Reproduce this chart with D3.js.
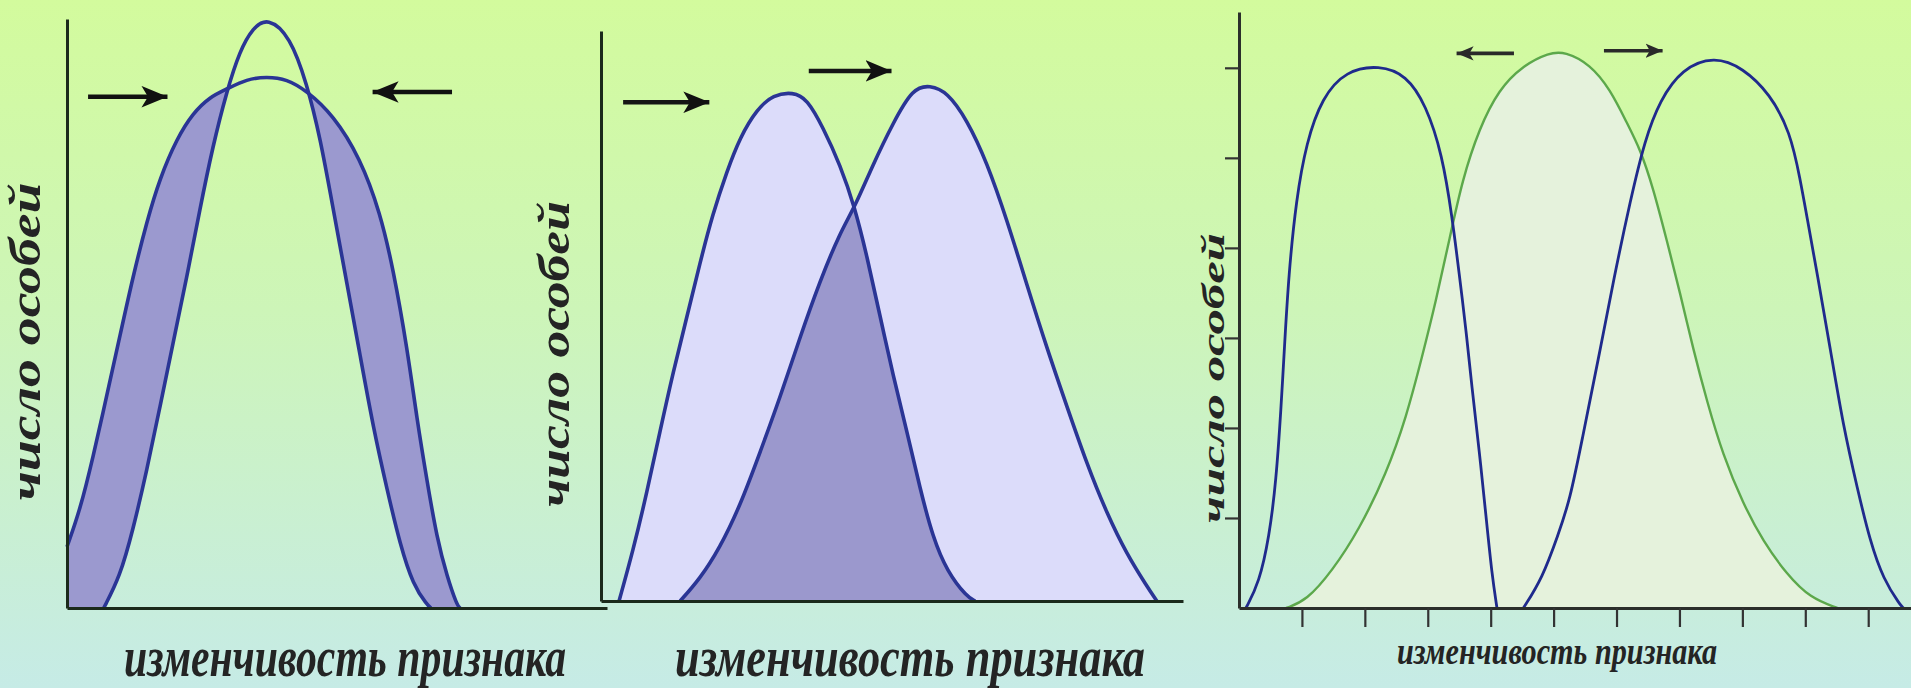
<!DOCTYPE html>
<html><head><meta charset="utf-8">
<script src="https://cdn.jsdelivr.net/npm/d3@7"></script>
<style>html,body{margin:0;padding:0;overflow:hidden;background:#cdf3c0}</style>
</head><body><svg id="c" width="1911" height="688"></svg>
<script>
// ---------- data ----------
const xLabel = "изменчивость признака";
const yLabel = "число особей";

// Panel 1: stabilising selection (x: 0-100, y: 0-100)
const p1Wide = [[0,10.4],[2.4,16.6],[4.8,25.5],[7.4,36.2],[9.8,46.2],[12.2,56.2],[14.8,65.7],[17.2,73.0],[20.4,79.8],[23.3,84.0],[26.5,86.8],[29.6,88.1],[33.3,89.8],[37.0,90.2],[40.7,89.8],[44.4,87.8],[49.3,83.7],[54.3,76.4],[58.0,67.1],[60.4,57.6],[63.0,44.1],[64.8,32.1],[66.7,21.4],[68.5,11.9],[70.4,5.3],[72.2,0.5],[72.8,0]];
const p1Narrow = [[6.8,0],[9.8,5.3],[12.2,13.2],[14.8,23.4],[17.2,34.1],[19.6,44.8],[22.2,56.2],[24.6,67.7],[27.0,78.4],[29.6,87.8],[32.0,94.6],[34.4,98.5],[37.2,100.3],[41.3,97.1],[44.4,89.1],[46.9,79.8],[49.3,67.7],[51.9,54.8],[54.3,42.8],[56.7,30.7],[59.3,20.0],[61.7,10.7],[64.1,3.9],[66.7,0.5],[67.4,0]];
const p1Arrows = [[3.9,18.7,86.8],[71.3,56.5,87.6]];   // [from x, to x, y]

// Panel 2: directional selection (x: 0-100, y: 0-100)
const p2Before = [[3.1,0],[5.5,8.8],[7.9,19.1],[10.1,29.6],[12.4,40.2],[14.8,50.0],[17.0,59.3],[19.2,67.9],[21.6,75.3],[23.9,81.4],[26.8,86.3],[29.6,88.8],[33.0,89.3],[35.4,88.1],[38.1,83.2],[41.1,76.5],[43.6,69.1],[45.7,60.5],[47.9,50.2],[50.2,39.5],[52.6,29.6],[54.8,19.8],[57.0,11.2],[59.5,5.1],[62.9,0.7],[64.3,0]];
const p2After = [[13.6,0],[17.0,3.9],[20.4,9.3],[23.9,16.7],[27.3,26.0],[30.8,35.8],[34.2,46.3],[37.6,56.1],[41.1,64.7],[43.6,69.1],[46.7,76.5],[50.2,83.9],[53.6,90.0],[56.5,90.5],[59.5,89.3],[62.9,84.4],[66.3,77.0],[69.8,66.7],[73.2,55.4],[76.6,44.4],[80.1,34.0],[83.5,24.0],[86.9,15.4],[90.4,8.1],[93.8,2.6],[95.5,0]];
const p2Arrows = [[3.8,18.7,87.5],[35.7,50.0,93.0]];

// Panel 3: disruptive selection (x in tick units, y in tick units)
const p3XTicks = [1,2,3,4,5,6,7,8,9,10];
const p3YTicks = [1,2,3,4,5,6];
const p3Start = [[0.75,0],[1.07,0.08],[1.48,0.41],[1.91,0.87],[2.34,1.49],[2.66,2.12],[2.91,2.79],[3.13,3.41],[3.34,4.08],[3.55,4.76],[3.82,5.33],[4.13,5.76],[4.50,6.02],[4.93,6.17],[5.18,6.18],[5.58,6.04],[5.90,5.76],[6.17,5.38],[6.38,5.09],[6.58,4.67],[6.80,4.08],[7.01,3.50],[7.22,2.87],[7.44,2.29],[7.69,1.70],[8.01,1.16],[8.33,0.74],[8.71,0.37],[9.08,0.11],[9.51,0]];
const p3Left = [[0.11,0],[0.32,0.28],[0.48,0.79],[0.59,1.41],[0.67,2.24],[0.72,2.87],[0.79,3.71],[0.91,4.54],[1.07,5.17],[1.32,5.67],[1.70,5.97],[2.23,6.03],[2.66,5.92],[2.97,5.59],[3.23,5.04],[3.39,4.33],[3.50,3.71],[3.61,3.08],[3.70,2.46],[3.82,1.74],[3.93,0.99],[4.02,0.37],[4.10,0]];
const p3Right = [[4.52,0],[4.82,0.33],[5.07,0.81],[5.26,1.20],[5.45,1.86],[5.71,2.76],[5.96,3.67],[6.22,4.53],[6.45,5.20],[6.69,5.64],[7.04,5.99],[7.55,6.13],[8.01,6.00],[8.44,5.71],[8.76,5.29],[8.92,4.76],[9.03,4.33],[9.19,3.71],[9.40,2.87],[9.60,2.03],[9.83,1.32],[10.03,0.74],[10.24,0.32],[10.51,0.03],[10.56,0]];
const p3Arrows = [[4.37,3.45,6.16],[5.80,6.74,6.19]];

// ---------- drawing ----------
const svg = d3.select("#c");
const defs = svg.append("defs");
const grad = defs.append("linearGradient").attr("id","bg").attr("x1",0).attr("y1",0).attr("x2",0).attr("y2",1);
[["0%","#d3fb9d"],["45%","#cdf5b8"],["100%","#c6ebe6"]].forEach(s=>grad.append("stop").attr("offset",s[0]).attr("stop-color",s[1]));
svg.append("rect").attr("width",1911).attr("height",688).attr("fill","url(#bg)");

function marker(id, w, h, color){
  defs.append("marker").attr("id",id).attr("viewBox","0 0 24 20").attr("refX",24).attr("refY",10)
    .attr("markerWidth",w).attr("markerHeight",h).attr("markerUnits","userSpaceOnUse").attr("orient","auto")
    .append("path").attr("d","M0,0 L24,10 L0,20 L6,10 Z").attr("fill",color);
}
marker("ah1",26,22,"#111");
marker("ah3",17,16,"#2a2a2a");

const BLUE = "#2a3595";
const curve = d3.curveBasis;

function drawArrows(g, arr, x, y, mid, color, width){
  arr.forEach(a=>{
    const x0 = x(a[0]), x1 = x(a[1]), yy = y(a[2]);
    const dir = Math.sign(x1-x0);
    g.append("line").attr("x1",x0).attr("y1",yy).attr("x2",x1-dir*0.5).attr("y2",yy)
      .attr("stroke",color).attr("stroke-width",width).attr("marker-end",`url(#${mid})`);
  });
}
function plainAxes(g, x, y, color, w){
  g.append("g").attr("transform",`translate(0,${y(0)})`)
    .call(d3.axisBottom(x).tickValues([]).tickSizeOuter(0))
    .call(s=>s.select(".domain").attr("stroke",color).attr("stroke-width",w));
  g.append("g").attr("transform",`translate(${x(0)},0)`)
    .call(d3.axisLeft(y).tickValues([]).tickSizeOuter(0))
    .call(s=>s.select(".domain").attr("stroke",color).attr("stroke-width",w));
}
function txt(g, s, x, y, size, len, rot){
  const t = g.append("text").attr("x",x).attr("y",y).text(s)
    .attr("font-family","'Liberation Serif','DejaVu Serif',serif").attr("font-style","italic").attr("font-weight","bold")
    .attr("font-size",size).attr("fill","#242424").attr("text-anchor","middle")
    .attr("textLength",len).attr("lengthAdjust","spacingAndGlyphs");
  if(rot) t.attr("transform",`rotate(-90,${x},${y})`);
  return t;
}

// ----- Panel 1 -----
{
  const x = d3.scaleLinear().domain([0,100]).range([67,607]);
  const y = d3.scaleLinear().domain([0,100]).range([608,19]);
  const g = svg.append("g");
  const area = d3.area().x(d=>x(d[0])).y0(y(0)).y1(d=>y(d[1])).curve(curve);
  const line = d3.line().x(d=>x(d[0])).y(d=>y(d[1])).curve(curve);
  const m = defs.append("mask").attr("id","m1");
  m.append("rect").attr("width",1911).attr("height",688).attr("fill","black");
  m.append("path").attr("d",area(p1Wide)).attr("fill","white");
  m.append("path").attr("d",area(p1Narrow)).attr("fill","black");
  g.append("path").attr("d",area(p1Wide)).attr("fill","#9b99cf").attr("mask","url(#m1)");
  g.append("path").attr("d",line(p1Wide)).attr("fill","none").attr("stroke",BLUE).attr("stroke-width",3.6);
  g.append("path").attr("d",line(p1Narrow)).attr("fill","none").attr("stroke",BLUE).attr("stroke-width",3.6);
  plainAxes(g, x, y, "#1b2a1b", 3);
  drawArrows(g, p1Arrows, x, y, "ah1", "#111", 4.5);
  txt(g, xLabel, (x.range()[0]+x.range()[1])/2+8, 676, 56, 442, false);
  txt(g, yLabel, 40, (y(0)+y(100))/2+28, 44, 318, true);
}

// ----- Panel 2 -----
{
  const x = d3.scaleLinear().domain([0,100]).range([601,1183]);
  const y = d3.scaleLinear().domain([0,100]).range([601,31]);
  const g = svg.append("g");
  const area = d3.area().x(d=>x(d[0])).y0(y(0)).y1(d=>y(d[1])).curve(curve);
  const line = d3.line().x(d=>x(d[0])).y(d=>y(d[1])).curve(curve);
  defs.append("clipPath").attr("id","cA").append("path").attr("d",area(p2Before));
  g.append("path").attr("d",area(p2Before)).attr("fill","#dcdcfa");
  g.append("path").attr("d",area(p2After)).attr("fill","#dcdcfa");
  g.append("path").attr("d",area(p2After)).attr("fill","#9b98cd").attr("clip-path","url(#cA)");
  g.append("path").attr("d",line(p2Before)).attr("fill","none").attr("stroke",BLUE).attr("stroke-width",3.6);
  g.append("path").attr("d",line(p2After)).attr("fill","none").attr("stroke",BLUE).attr("stroke-width",3.6);
  plainAxes(g, x, y, "#1b2a1b", 3);
  drawArrows(g, p2Arrows, x, y, "ah1", "#151515", 4.5);
  txt(g, xLabel, (x.range()[0]+x.range()[1])/2+18, 676, 56, 470, false);
  txt(g, yLabel, 569, (y(0)+y(100))/2+38, 44, 306, true);
}

// ----- Panel 3 -----
{
  const x = d3.scaleLinear().domain([0,10.68]).range([1239,1911]);
  const y = d3.scaleLinear().domain([0,6.62]).range([608,12]);
  const g = svg.append("g");
  const area = d3.area().x(d=>x(d[0])).y0(y(0)).y1(d=>y(d[1])).curve(curve);
  const line = d3.line().x(d=>x(d[0])).y(d=>y(d[1])).curve(curve);
  g.append("path").attr("d",area(p3Start)).attr("fill","#e5f2dc");
  g.append("path").attr("d",line(p3Start)).attr("fill","none").attr("stroke","#5ca84b").attr("stroke-width",2.4);
  g.append("path").attr("d",line(p3Left)).attr("fill","none").attr("stroke","#1f2a8c").attr("stroke-width",2.8);
  g.append("path").attr("d",line(p3Right)).attr("fill","none").attr("stroke","#1f2a8c").attr("stroke-width",2.8);
  const ax = g.append("g").attr("transform",`translate(0,${y(0)})`)
    .call(d3.axisBottom(x).tickValues(p3XTicks).tickSize(19).tickSizeOuter(0).tickFormat(""));
  const ay = g.append("g").attr("transform",`translate(${x(0)},0)`)
    .call(d3.axisLeft(y).tickValues(p3YTicks).tickSize(14).tickSizeOuter(0).tickFormat(""));
  [ax,ay].forEach(a=>{
    a.select(".domain").attr("stroke","#2b2f2b").attr("stroke-width",3);
    a.selectAll(".tick line").attr("stroke","#333").attr("stroke-width",2.2);
  });
  drawArrows(g, p3Arrows, x, y, "ah3", "#2a2a2a", 3.6);
  txt(g, xLabel, 1557, 664, 38, 320, false);
  txt(g, yLabel, 1224, 378, 32, 290, true);
}
</script></body></html>
